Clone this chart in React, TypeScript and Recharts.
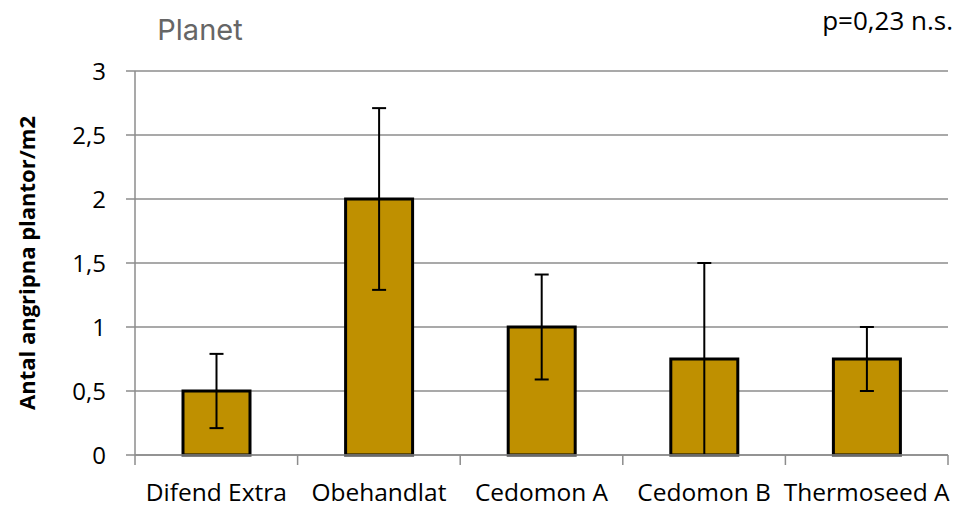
import { BarChart, Bar, XAxis, YAxis, CartesianGrid, ErrorBar, Label } from 'recharts';

const categories = ['Difend Extra', 'Obehandlat', 'Cedomon A', 'Cedomon B', 'Thermoseed A'];
const values = [0.5, 2.0, 1.0, 0.75, 0.75];
const errMinus = [0.29, 0.71, 0.41, 0.75, 0.25];
const errPlus = [0.29, 0.71, 0.41, 0.75, 0.25];
const yTicks = [0, 0.5, 1, 1.5, 2, 2.5, 3];

const W = 969;
const H = 509;
const X_H = 54;
const margin = { top: 71, right: 21, bottom: 0, left: 75 };
const Y_W = 60;
const band = (W - margin.left - Y_W - margin.right) / categories.length;

const data = categories.map((name, i) => ({
  name,
  value: values[i],
  err: [errMinus[i], errPlus[i]],
}));

const GRID = '#8c8c8c';
const FONT = '"Open Sans", "Noto Sans", sans-serif';

function XTick(props: any) {
  const { x, y, payload, index } = props;
  const last = index === categories.length - 1;
  return (
    <g>
      <line x1={x - band / 2} y1={y} x2={x - band / 2} y2={y + 10} stroke={GRID} strokeWidth={1.5} />
      {last && <line x1={x + band / 2} y1={y} x2={x + band / 2} y2={y + 10} stroke={GRID} strokeWidth={1.5} />}
      <text x={x} y={y + 36} textAnchor="middle" dominantBaseline="central" fontSize={24.5} fill="#000" fontFamily={FONT}>
        {payload.value}
      </text>
    </g>
  );
}

export default function App() {
  return (
    <div style={{ position: 'absolute', left: 0, top: 0, width: W, height: H, background: '#fff' }}>
      <div style={{ position: 'absolute', left: 0, width: 400, top: 10, lineHeight: '40px', textAlign: 'center', fontFamily: 'Inter, Lato, sans-serif', fontSize: 29, color: '#666' }}>
        Planet
      </div>
      <div style={{ position: 'absolute', right: 16, top: 2, lineHeight: '36px', fontFamily: FONT, fontSize: 26, color: '#000' }}>
        p=0,23 n.s.
      </div>
      <BarChart width={W} height={H} data={data} margin={margin}>
        <CartesianGrid vertical={false} stroke={GRID} strokeWidth={1.5} />
        <XAxis
          dataKey="name"
          height={X_H}
          axisLine={{ stroke: GRID, strokeWidth: 1.5 }}
          tickLine={false}
          tickSize={0}
          tickMargin={0}
          interval={0}
          tick={<XTick />}
        />
        <YAxis
          width={Y_W}
          domain={[0, 3]}
          ticks={yTicks}
          axisLine={{ stroke: GRID, strokeWidth: 1.5 }}
          tickLine={{ stroke: GRID, strokeWidth: 1.5 }}
          tickSize={9}
          tickMargin={20}
          tickFormatter={(v: number) => String(v).replace('.', ',')}
          tick={{ fontSize: 24, fill: '#000', fontFamily: FONT }}
        >
          <Label
            content={() => (
              <text
                x={26}
                y={263}
                transform="rotate(-90 26 263)"
                textAnchor="middle"
                dominantBaseline="central"
                fontSize={22}
                fontWeight="bold"
                fontFamily={FONT}
                fill="#000"
              >
                Antal angripna plantor/m2
              </text>
            )}
          />
        </YAxis>
        <Bar dataKey="value" fill="#BF9000" stroke="#000" strokeWidth={3} barSize={67} isAnimationActive={false}>
          <ErrorBar dataKey="err" width={7} stroke="#000" strokeWidth={2} direction="y" />
        </Bar>
      </BarChart>
    </div>
  );
}
